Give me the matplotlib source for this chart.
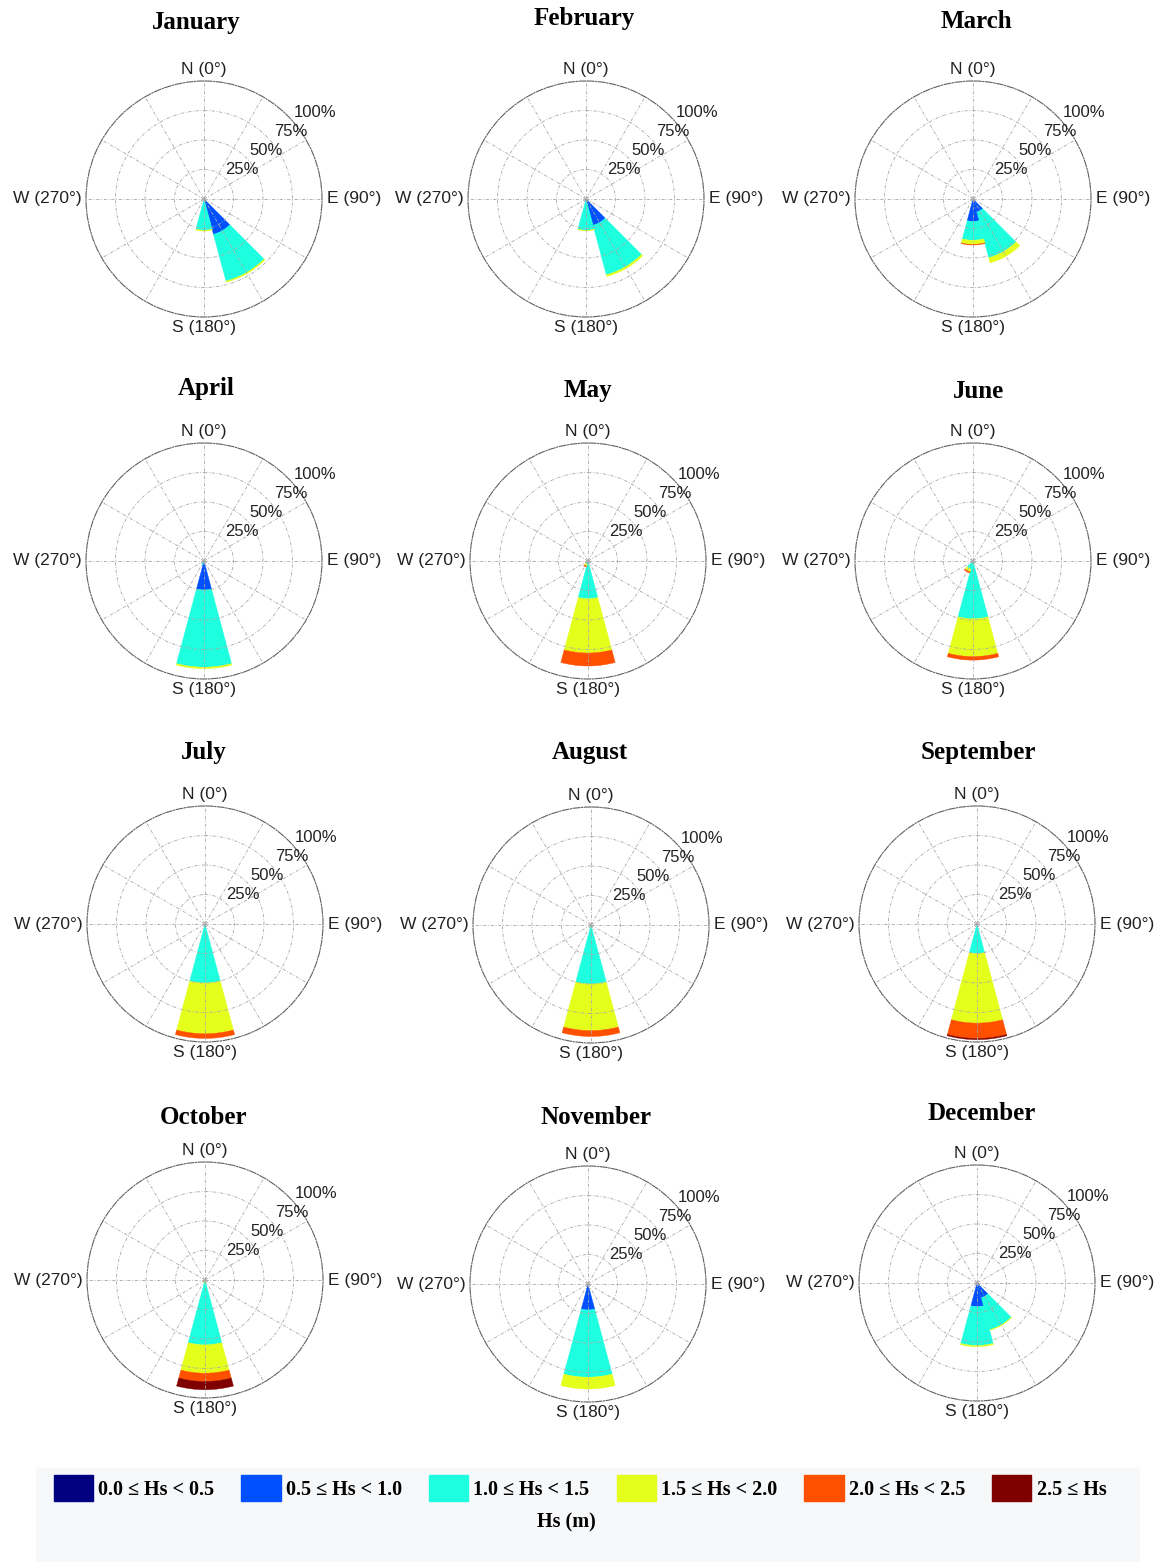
import numpy as np
import matplotlib
matplotlib.use("Agg")
import matplotlib.pyplot as plt
from matplotlib.patches import Patch, Rectangle

W, H = 1158, 1562  # output size in pixels (dpi 100)

months = ["January", "February", "March", "April", "May", "June",
          "July", "August", "September", "October", "November", "December"]

# direction sectors (centre, degrees clockwise from north), 30 deg wide
directions = [150, 180, 210]
sector_width = 30

hs_bins = ["0.0 \u2264 Hs < 0.5", "0.5 \u2264 Hs < 1.0", "1.0 \u2264 Hs < 1.5",
           "1.5 \u2264 Hs < 2.0", "2.0 \u2264 Hs < 2.5", "2.5 \u2264 Hs"]
hs_colors = ["#000080", "#0050ff", "#1effe0", "#e4ff1c", "#ff5000", "#800000"]

# occurrence (%) in each Hs class, one row per sector: 150, 180, 210 deg
jan = [[0, 31, 41, 1, 0, 0], [0, 1, 25.5, 0.7, 0, 0], [0, 0, 0, 0, 0, 0]]
feb = [[0, 23, 43.5, 1.5, 0, 0], [0, 2, 24.5, 0.5, 0, 0], [0, 0, 0, 0, 0, 0]]
mar = [[0, 11.5, 40, 4.5, 0, 0], [0, 19, 16, 3.5, 0.5, 0], [0, 0, 0, 0, 0, 0]]
apr = [[0, 0, 0, 0, 0, 0], [0, 24.5, 65.5, 1.2, 0, 0], [0, 0, 3, 0, 0, 0]]
may = [[0, 0, 0, 0, 0, 0], [0, 1.5, 30.5, 46, 11, 0], [0, 0, 2.5, 2, 0.8, 0]]
jun = [[0, 0, 0, 0, 0, 0], [0, 1, 48, 32, 3, 0], [0, 0, 7, 2.5, 1, 0]]
jul = [[0, 0, 0, 0, 0, 0], [0, 0.5, 49.5, 43, 4, 0], [0, 0, 0, 0, 0, 0]]
aug = [[0, 0, 0, 0, 0, 0], [0, 0.5, 49.5, 39.5, 5, 0], [0, 0, 0, 0, 0, 0]]
sep = [[0, 0, 0, 0, 0, 0], [0, 0, 25, 59, 13, 1], [0, 0, 0, 0, 0, 0]]
oct_ = [[0, 0, 0, 0, 0, 0], [0, 1, 54, 24, 7, 7], [0, 0, 1, 1.5, 0, 0]]
nov = [[0, 0, 0, 0, 0, 0], [0, 22, 57, 10, 0, 0], [0, 0, 0, 0, 0, 0]]
dec = [[0, 13, 28, 0.5, 0, 0], [0, 20, 33, 1, 0, 0], [0, 0, 0, 0, 0, 0]]
roses = [jan, feb, mar, apr, may, jun, jul, aug, sep, oct_, nov, dec]

ring_values = [25, 50, 75, 100]

# panel layout in pixels: rose centre and title position
centres = [(204, 199), (586, 199), (973, 199),
           (204, 561), (588, 561), (973, 561),
           (205, 924), (591, 925), (977, 924),
           (205, 1280), (588, 1284), (977, 1283)]
title_pos = [(196, 23), (584, 19), (976, 21),
             (206, 388), (588, 390), (979, 392),
             (204, 752), (590, 752), (978, 752),
             (204, 1117), (596, 1117), (982, 1113)]
R = 118

SANS = ["Liberation Sans", "DejaVu Sans"]
SERIF = ["Liberation Serif", "DejaVu Serif"]

fig = plt.figure(figsize=(W / 100, H / 100), dpi=100)
fig.patch.set_facecolor("white")


def rose(ax, data):
    for d, counts in zip(directions, data):
        bottom = 0.0
        for v, c in zip(counts, hs_colors):
            if v <= 0:
                continue
            ax.bar(np.deg2rad(d), v, width=np.deg2rad(sector_width), bottom=bottom,
                   color=c, edgecolor=c, linewidth=0.3)
            bottom += v

    ax.set_theta_zero_location("N")
    ax.set_theta_direction(-1)
    ax.set_ylim(0, 100)
    ax.set_xticks(np.deg2rad(np.arange(0, 360, 30)))
    ax.set_xticklabels([])
    ax.set_yticks(ring_values[:-1])
    ax.set_yticklabels([])
    ax.tick_params(length=0)
    ax.grid(True, color="#a8a8a8", linewidth=0.6, linestyle=(0, (4, 2, 1, 2)))
    ax.spines["polar"].set(color="#606060", linewidth=0.8,
                           linestyle=(0, (6, 1.5, 1, 1.5)))

    lab = dict(fontsize=12.5, family=SANS, color="#222222", va="center")
    ax.text(0, 110, "N (0\u00b0)", ha="center", **lab)
    ax.text(np.pi, 109, "S (180\u00b0)", ha="center", **lab)
    ax.text(np.pi / 2, 104, "E (90\u00b0)", ha="left", **lab)
    ax.text(3 * np.pi / 2, 104, "W (270\u00b0)", ha="right", **lab)
    for v in ring_values:
        ax.text(np.deg2rad(52), v * 1.04 + 15, f"{v}%", ha="center",
                va="center", fontsize=12, family=SANS, color="#222222")


for i, (name, data) in enumerate(zip(months, roses)):
    cx, cy = centres[i]
    ax = fig.add_axes([(cx - R) / W, 1 - (cy + R) / H, 2 * R / W, 2 * R / H],
                      projection="polar")
    rose(ax, data)
    tx, ty = title_pos[i]
    fig.text(tx / W, 1 - ty / H, name, ha="center", va="center",
             fontsize=18, fontweight="bold", family=SERIF)

# legend strip along the bottom
fig.add_artist(Rectangle((36 / W, 0), (1140 - 36) / W, (1562 - 1468) / H,
                         transform=fig.transFigure, facecolor="#f7f8fa",
                         edgecolor="none", zorder=0))
handles = [Patch(facecolor=c, edgecolor=c) for c in hs_colors]
fig.legend(handles, hs_bins, loc="center", ncol=6,
           bbox_to_anchor=(580 / W, 1 - 1488 / H), frameon=False,
           prop=dict(family=SERIF, size=14.5, weight="bold"),
           handlelength=1.95, handleheight=1.55, handletextpad=0.25,
           columnspacing=1.35, borderaxespad=0)
fig.text(566 / W, 1 - 1522 / H, "Hs (m)", ha="center", va="center",
         fontsize=14.5, fontweight="bold", family=SERIF)

fig.savefig("out.png", dpi=100, facecolor="white")
